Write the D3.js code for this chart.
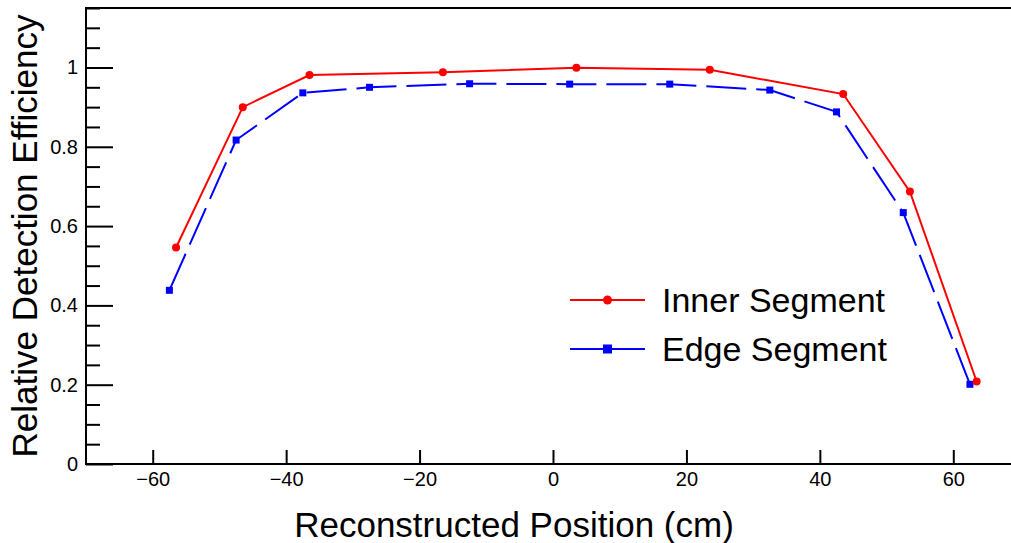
<!DOCTYPE html>
<html>
<head>
<meta charset="utf-8">
<script src="https://cdn.jsdelivr.net/npm/d3@7"></script>
<style>
  body { margin: 0; background: #fff; }
  text { font-family: "Liberation Sans", Arial, Helvetica, sans-serif; }
</style>
</head>
<body>
<div id="vis"></div>
<script>
// data
var innerX = [-56.5, -46.5, -36.5, -16.5, 3.5, 23.5, 43.5, 53.5, 63.5];
var innerY = [0.546, 0.900, 0.981, 0.988, 0.999, 0.994, 0.933, 0.687, 0.208];
var edgeX = [-57.5, -47.5, -37.5, -27.5, -12.5, 2.5, 17.5, 32.5, 42.5, 52.5, 62.5];
var edgeY = [0.438, 0.817, 0.936, 0.950, 0.959, 0.958, 0.958, 0.943, 0.888, 0.634, 0.201];
var xTicks = [-60, -40, -20, 0, 20, 40, 60];
var yTicks = [0, 0.2, 0.4, 0.6, 0.8, 1];
var legendLabels = ["Inner Segment", "Edge Segment"];

var width = 1011, height = 543;
var margin = {top: 8, left: 86, bottom: 464};

var svg = d3.select("#vis").append("svg")
  .attr("width", width)
  .attr("height", height);

var x = d3.scaleLinear().domain([-70, 70]).range([margin.left, 1020]);
var y = d3.scaleLinear().domain([0, 1.15]).range([margin.bottom, margin.top]);

// frame
svg.append("rect")
  .attr("x", x(-70)).attr("y", y(1.15))
  .attr("width", x(70) - x(-70)).attr("height", y(0) - y(1.15))
  .attr("fill", "none").attr("stroke", "#000").attr("stroke-width", 2);

// y axis minor ticks
var yMinor = d3.range(0, 1.151, 0.05).filter(function(v) { return Math.abs(v * 5 - Math.round(v * 5)) > 1e-6; });
svg.append("g")
  .attr("transform", "translate(" + margin.left + ",0)")
  .call(d3.axisLeft(y).tickValues(yMinor).tickSize(-14).tickFormat(""))
  .call(function(g) { g.select(".domain").remove(); })
  .selectAll("line").attr("stroke-width", 2);

// y axis major
svg.append("g")
  .attr("transform", "translate(" + margin.left + ",0)")
  .call(d3.axisLeft(y).tickValues(yTicks).tickSize(-27).tickPadding(8)
    .tickFormat(function(d) { return d === 0 || d === 1 ? d3.format("d")(d) : d3.format(".1f")(d); }))
  .call(function(g) { g.select(".domain").remove(); })
  .call(function(g) { g.selectAll("line").attr("stroke-width", 2); })
  .selectAll("text").attr("font-size", 20).attr("fill", "#000");

// x axis
svg.append("g")
  .attr("transform", "translate(0," + margin.bottom + ")")
  .call(d3.axisBottom(x).tickValues(xTicks).tickSize(-14).tickPadding(8))
  .call(function(g) { g.select(".domain").remove(); })
  .call(function(g) { g.selectAll("line").attr("stroke-width", 2); })
  .selectAll("text").attr("font-size", 20).attr("fill", "#000");

// axis titles
svg.append("text")
  .attr("x", 514).attr("y", 537)
  .attr("text-anchor", "middle")
  .attr("font-size", 35)
  .text("Reconstructed Position (cm)");

svg.append("text")
  .attr("transform", "translate(37,236) rotate(-90)")
  .attr("text-anchor", "middle")
  .attr("font-size", 35)
  .text("Relative Detection Efficiency");

var line = d3.line();

var innerPts = innerX.map(function(d, i) { return [x(d), y(innerY[i])]; });
var edgePts = edgeX.map(function(d, i) { return [x(d), y(edgeY[i])]; });

svg.append("path")
  .attr("d", line(edgePts))
  .attr("fill", "none").attr("stroke", "#0000ff").attr("stroke-width", 2)
  .attr("stroke-dasharray", "40,10");

svg.selectAll(".edge")
  .data(edgePts).enter().append("rect")
  .attr("x", function(d) { return d[0] - 3.5; })
  .attr("y", function(d) { return d[1] - 3.5; })
  .attr("width", 7).attr("height", 7)
  .attr("fill", "#0000ff");

svg.append("path")
  .attr("d", line(innerPts))
  .attr("fill", "none").attr("stroke", "#ff0000").attr("stroke-width", 2);

svg.selectAll(".inner")
  .data(innerPts).enter().append("circle")
  .attr("cx", function(d) { return d[0]; })
  .attr("cy", function(d) { return d[1]; })
  .attr("r", 4)
  .attr("fill", "#ff0000");

// legend
var legY = [300, 349];
var legColors = ["#ff0000", "#0000ff"];
legendLabels.forEach(function(lab, i) {
  var g = svg.append("g");
  g.append("line")
    .attr("x1", 570).attr("x2", 645)
    .attr("y1", legY[i]).attr("y2", legY[i])
    .attr("stroke", legColors[i]).attr("stroke-width", 2);
  if (i === 0) {
    g.append("circle").attr("cx", 607.5).attr("cy", legY[i]).attr("r", 4.5).attr("fill", legColors[i]);
  } else {
    g.append("rect").attr("x", 603).attr("y", legY[i] - 4.5).attr("width", 9).attr("height", 9).attr("fill", legColors[i]);
  }
  g.append("text")
    .attr("x", 662).attr("y", legY[i] + 12)
    .attr("font-size", 34)
    .text(lab);
});
</script>
</body>
</html>
